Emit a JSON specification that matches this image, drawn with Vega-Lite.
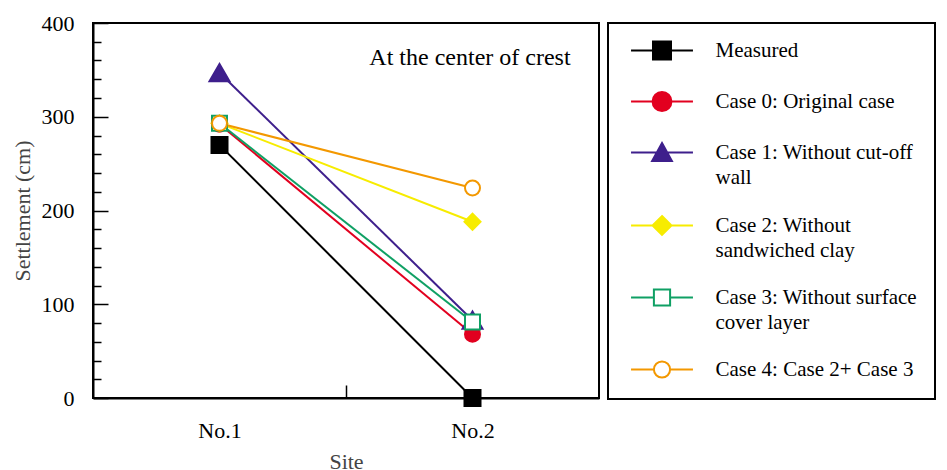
{
  "$schema": "https://vega.github.io/schema/vega-lite/v6.json",
  "width": 506,
  "height": 375,
  "autosize": {"type": "none"},
  "padding": {"left": 93, "top": 23, "right": 348, "bottom": 72},
  "background": "white",
  "config": {
    "font": "Liberation Serif",
    "view": {"stroke": "black", "strokeWidth": 2},
    "style": {"guide-label": {"lineHeight": 25}},
    "axis": {
      "grid": false,
      "domainColor": "black",
      "domainWidth": 2,
      "tickColor": "black",
      "tickWidth": 1.5,
      "labelFont": "Liberation Serif",
      "labelFontSize": 22,
      "labelColor": "black",
      "labelOverlap": false,
      "titleFont": "Liberation Serif",
      "titleFontSize": 22,
      "titleFontWeight": "normal",
      "titleColor": "#444444"
    }
  },
  "datasets": {
    "settle": [
      {"series": "Measured", "site": 1, "settlement": 270},
      {"series": "Measured", "site": 2, "settlement": 0},
      {"series": "Case 0: Original case", "site": 1, "settlement": 292},
      {"series": "Case 0: Original case", "site": 2, "settlement": 68},
      {"series": "Case 1: Without cut-off wall", "site": 1, "settlement": 347},
      {"series": "Case 1: Without cut-off wall", "site": 2, "settlement": 83},
      {"series": "Case 2: Without sandwiched clay", "site": 1, "settlement": 293},
      {"series": "Case 2: Without sandwiched clay", "site": 2, "settlement": 188},
      {"series": "Case 3: Without surface cover layer", "site": 1, "settlement": 293},
      {"series": "Case 3: Without surface cover layer", "site": 2, "settlement": 81},
      {"series": "Case 4: Case 2+ Case 3", "site": 1, "settlement": 293},
      {"series": "Case 4: Case 2+ Case 3", "site": 2, "settlement": 224}
    ],
    "note": [{"note": "At the center of crest"}]
  },
  "layer": [
    {
      "data": {"name": "settle"},
      "mark": {"type": "line", "strokeWidth": 2},
      "encoding": {
        "x": {
          "field": "site",
          "type": "quantitative",
          "scale": {"domain": [0.5, 2.5], "nice": false, "zero": false},
          "axis": {
            "title": "Site",
            "values": [1, 1.5, 2],
            "tickCount": 10,
            "labelExpr": "datum.value == 1 ? 'No.1' : datum.value == 2 ? 'No.2' : ''",
            "labelOverlap": false,
            "tickSize": -13,
            "tickOpacity": {"condition": {"test": "datum.value == 1.5", "value": 1}, "value": 0},
            "labelPadding": 35,
            "labelFlush": false,
            "titlePadding": 10
          }
        },
        "y": {
          "field": "settlement",
          "type": "quantitative",
          "scale": {"domain": [0, 400], "nice": false},
          "axis": {
            "title": "Settlement (cm)",
            "values": [0, 20, 40, 60, 80, 100, 120, 140, 160, 180, 200, 220, 240, 260, 280, 300, 320, 340, 360, 380, 400],
            "tickCount": 40,
            "labelExpr": "datum.value % 100 == 0 ? datum.label : ''",
            "labelOverlap": false,
            "tickSize": {"condition": {"test": "datum.value % 100 == 0", "value": -15}, "value": -8},
            "labelPadding": 34,
            "titlePadding": 7
          }
        },
        "color": {
          "field": "series",
          "type": "nominal",
          "scale": {
            "domain": ["Measured", "Case 0: Original case", "Case 1: Without cut-off wall", "Case 2: Without sandwiched clay", "Case 3: Without surface cover layer", "Case 4: Case 2+ Case 3"],
            "range": ["#000000", "#e2001f", "#3e1f8c", "#f7ec00", "#0fa064", "#f39800"]
          },
          "legend": {
            "title": null,
            "orient": "right",
            "offset": 9,
            "padding": 17,
            "rowPadding": 24,
            "strokeColor": "black",
            "fillColor": "white",
            "labelFont": "Liberation Serif",
            "labelFontSize": 21,
            "labelColor": "black",
            "labelLimit": 500,
            "labelOffset": 43,
            "symbolOffset": 26.5,
            "symbolSize": 324,
            "labelExpr": "datum.label == 'Case 1: Without cut-off wall' ? ['Case 1: Without cut-off\u00a0\u00a0\u00a0\u00a0\u00a0', 'wall'] : datum.label == 'Case 2: Without sandwiched clay' ? ['Case 2: Without', 'sandwiched clay'] : datum.label == 'Case 3: Without surface cover layer' ? ['Case 3: Without surface', 'cover layer'] : datum.label",
            "encode": {
              "legend": {"update": {"strokeWidth": {"value": 2}}},
              "symbols": {
                "update": {
                  "shape": {"signal": "datum.value == 'Measured' ? 'M-3.44,0H3.44M-1,-1H1V1H-1Z' : datum.value == 'Case 0: Original case' ? 'M-3.44,0H3.44M-1.05,0A1.05,1.05 0 1,0 1.05,0A1.05,1.05 0 1,0 -1.05,0Z' : datum.value == 'Case 1: Without cut-off wall' ? 'M-3.44,0H3.44M0,-1.05L1.1,0.95L-1.1,0.95Z' : datum.value == 'Case 2: Without sandwiched clay' ? 'M-3.44,0H3.44M0,-1.05L1.05,0L0,1.05L-1.05,0Z' : datum.value == 'Case 3: Without surface cover layer' ? 'M-3.44,0H-0.9M0.9,0H3.44M-0.9,-0.9H0.9V0.9H-0.9Z' : 'M-3.44,0H-0.9M0.9,0H3.44M-0.9,0A0.9,0.9 0 1,0 0.9,0A0.9,0.9 0 1,0 -0.9,0Z'"},
                  "fill": {"signal": "datum.value == 'Measured' ? '#000000' : datum.value == 'Case 0: Original case' ? '#e2001f' : datum.value == 'Case 1: Without cut-off wall' ? '#3e1f8c' : datum.value == 'Case 2: Without sandwiched clay' ? '#f7ec00' : '#ffffff'"},
                  "strokeWidth": {"value": 2},
                  "opacity": {"value": 1}
                }
              }
            }
          }
        }
      }
    },
    {
      "data": {"name": "settle"},
      "transform": [{"filter": "datum.series == 'Measured'"}],
      "mark": {"type": "point", "shape": "square", "filled": true, "fill": "#000000", "stroke": "#000000", "strokeWidth": 2, "size": 256, "opacity": 1},
      "encoding": {"x": {"field": "site", "type": "quantitative"}, "y": {"field": "settlement", "type": "quantitative"}}
    },
    {
      "data": {"name": "settle"},
      "transform": [{"filter": "datum.series == 'Case 0: Original case'"}],
      "mark": {"type": "point", "shape": "circle", "filled": true, "fill": "#e2001f", "stroke": "#e2001f", "strokeWidth": 2, "size": 225, "opacity": 1},
      "encoding": {"x": {"field": "site", "type": "quantitative"}, "y": {"field": "settlement", "type": "quantitative"}}
    },
    {
      "data": {"name": "settle"},
      "transform": [{"filter": "datum.series == 'Case 1: Without cut-off wall'"}],
      "mark": {"type": "point", "shape": "triangle-up", "filled": true, "fill": "#3e1f8c", "stroke": "#3e1f8c", "strokeWidth": 2, "size": 400, "opacity": 1},
      "encoding": {"x": {"field": "site", "type": "quantitative"}, "y": {"field": "settlement", "type": "quantitative"}}
    },
    {
      "data": {"name": "settle"},
      "transform": [{"filter": "datum.series == 'Case 2: Without sandwiched clay'"}],
      "mark": {"type": "point", "shape": "diamond", "filled": true, "fill": "#f7ec00", "stroke": "#f7ec00", "strokeWidth": 2, "size": 256, "opacity": 1},
      "encoding": {"x": {"field": "site", "type": "quantitative"}, "y": {"field": "settlement", "type": "quantitative"}}
    },
    {
      "data": {"name": "settle"},
      "transform": [{"filter": "datum.series == 'Case 3: Without surface cover layer'"}],
      "mark": {"type": "point", "shape": "square", "filled": true, "fill": "#ffffff", "stroke": "#0fa064", "strokeWidth": 2, "size": 225, "opacity": 1},
      "encoding": {"x": {"field": "site", "type": "quantitative"}, "y": {"field": "settlement", "type": "quantitative"}}
    },
    {
      "data": {"name": "settle"},
      "transform": [{"filter": "datum.series == 'Case 4: Case 2+ Case 3'"}],
      "mark": {"type": "point", "shape": "circle", "filled": true, "fill": "#ffffff", "stroke": "#f39800", "strokeWidth": 2, "size": 225, "opacity": 1},
      "encoding": {"x": {"field": "site", "type": "quantitative"}, "y": {"field": "settlement", "type": "quantitative"}}
    },
    {
      "data": {"name": "note"},
      "mark": {"type": "text", "font": "Liberation Serif", "fontSize": 24, "fontWeight": "normal", "align": "center", "baseline": "alphabetic", "fill": "black"},
      "encoding": {
        "x": {"datum": 1.99, "type": "quantitative"},
        "y": {"datum": 355, "type": "quantitative"},
        "text": {"field": "note", "type": "nominal"}
      }
    }
  ]
}
